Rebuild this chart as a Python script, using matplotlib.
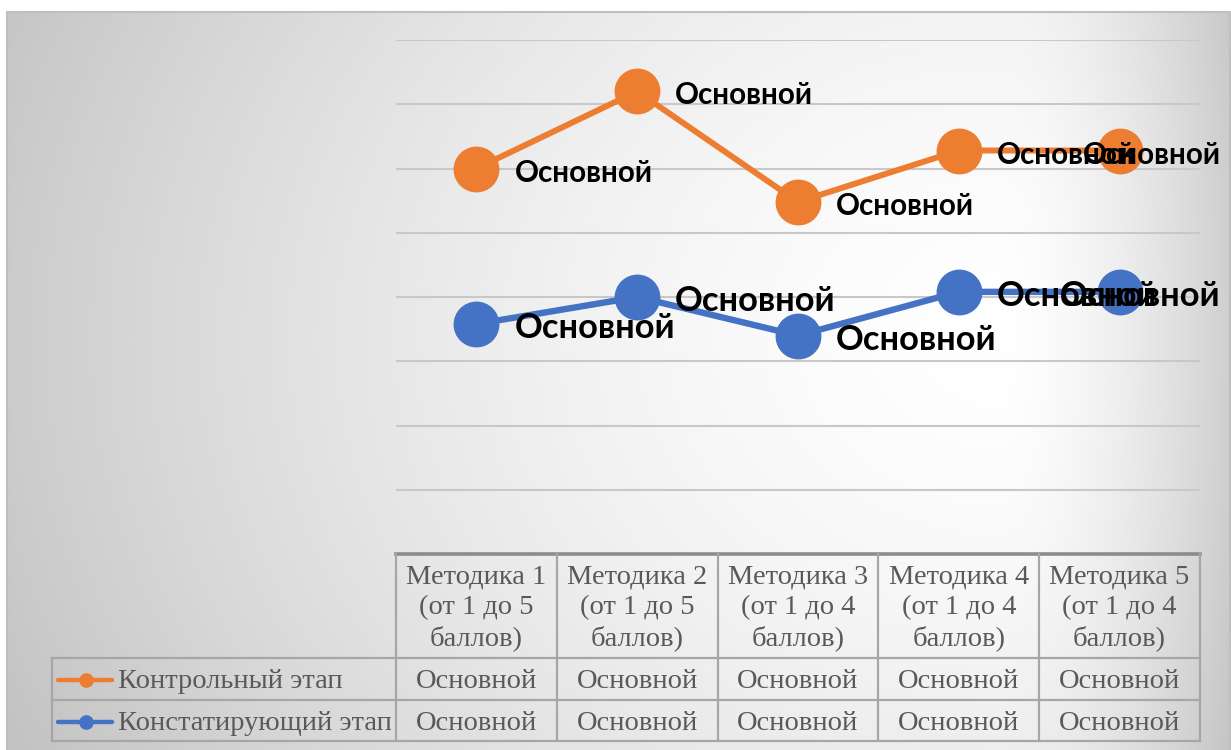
import numpy as np
import matplotlib
matplotlib.use("Agg")
import matplotlib.pyplot as plt
from matplotlib.lines import Line2D

# ---------------- data ----------------
categories = ["Методика 1\n(от 1 до 5\nбаллов)",
              "Методика 2\n(от 1 до 5\nбаллов)",
              "Методика 3\n(от 1 до 4\nбаллов)",
              "Методика 4\n(от 1 до 4\nбаллов)",
              "Методика 5\n(от 1 до 4\nбаллов)"]
series_names = ["Контрольный этап", "Констатирующий этап"]
control_values = [3.0, 3.6, 2.74, 3.14, 3.14]
baseline_values = [1.79, 2.0, 1.70, 2.04, 2.04]
control_labels = ["Основной"] * 5
baseline_labels = ["Основной"] * 5
colors = ["#ED7D31", "#4472C4"]

W, H = 1231, 750
DPI = 100
fig = plt.figure(figsize=(W / DPI, H / DPI), dpi=DPI)

# ---------------- background overlay (pixel coordinates) ----------------
ov = fig.add_axes([0, 0, 1, 1], zorder=0)
ov.set_xlim(0, W)
ov.set_ylim(H, 0)
ov.axis("off")

yy, xx = np.mgrid[0:H, 0:W].astype(float)
cx, cy = 1000.0, 340.0
u = np.where(xx < cx, (xx - cx) / 1100.0, (xx - cx) / 265.0)
v = (yy - cy) / 900.0
t = np.sqrt(u ** 2 + v ** 2)
dark = 60.0 * np.clip(t, 0, 1.05) ** 1.6
g = (255.0 - dark) / 255.0
g[(xx < 6) | (yy < 11)] = 1.0
img = np.dstack([g, g, g])
ov.imshow(img, extent=(0, W, H, 0), aspect="auto", interpolation="bilinear", zorder=0)
# chart border
ov.plot([6.5, 6.5, 1229.5, 1229.5], [H, 11.5, 11.5, H], color="#BFBFBF", lw=1.5, zorder=1)

# ---------------- main plot ----------------
L, R, T, B = 396, 1200, 40, 554
ax = fig.add_axes([L / W, 1 - B / H, (R - L) / W, (B - T) / H], zorder=2)
ax.patch.set_alpha(0)
ax.set_xlim(0.5, 5.5)
ax.set_ylim(0, 4)
for s in ax.spines.values():
    s.set_visible(False)
ax.set_xticks([])
ax.set_yticks(np.arange(0.5, 4.01, 0.5))
ax.tick_params(left=False, labelleft=False)
ax.grid(axis="y", color="#C8C8C8", lw=1.5)
ax.set_axisbelow(True)

x = np.arange(1, 6)
ax.plot(x, baseline_values, color=colors[1], lw=4.6, marker="o", ms=32,
        solid_capstyle="round", zorder=3, clip_on=False)
ax.plot(x, control_values, color=colors[0], lw=4.3, marker="o", ms=32,
        solid_capstyle="round", zorder=3, clip_on=False)

lab_font = dict(family="Lato", weight="bold", color="black")
for vals, labs, fs, dy in [(control_values, control_labels, 21.3, -4),
                           (baseline_values, baseline_labels, 24.8, -4)]:
    for i, (xv, yv, lb) in enumerate(zip(x, vals, labs)):
        if i == len(x) - 1:
            ax.annotate(lb, (xv, yv), xytext=(101, dy), textcoords="offset pixels",
                        ha="right", va="center", fontsize=fs, zorder=5,
                        annotation_clip=False, **lab_font)
        else:
            ax.annotate(lb, (xv, yv), xytext=(38, dy), textcoords="offset pixels",
                        ha="left", va="center", fontsize=fs, zorder=5,
                        annotation_clip=False, **lab_font)

# ---------------- data table ----------------
col_edges = np.linspace(L, R, len(categories) + 1)
row_top, row_h1, row_h2, row_bot = 553.5, 658, 700, 741
leg_left = 52
tcol = "#A6A6A6"
txt_col = "#595959"
tfont = dict(family="Liberation Serif", color=txt_col)
FS = 20.5

# horizontal lines
ov.plot([L, R], [row_top, row_top], color="#8C8C8C", lw=2.6, zorder=3)
ov.plot([leg_left, R], [row_h1, row_h1], color=tcol, lw=1.6, zorder=3)
ov.plot([leg_left, R], [row_h2, row_h2], color=tcol, lw=1.6, zorder=3)
ov.plot([leg_left, R], [row_bot, row_bot], color=tcol, lw=1.6, zorder=3)
# vertical lines
for xe in col_edges:
    ov.plot([xe, xe], [row_top, row_bot], color=tcol, lw=1.6, zorder=3)
ov.plot([leg_left, leg_left], [row_h1, row_bot], color=tcol, lw=1.6, zorder=3)

# header texts
for i, cat in enumerate(categories):
    xc = (col_edges[i] + col_edges[i + 1]) / 2
    ov.text(xc, 608, cat, ha="center", va="center", fontsize=FS,
            linespacing=1.28, zorder=4, **tfont)

# rows
row_centers = [(row_h1 + row_h2) / 2 + 3, (row_h2 + row_bot) / 2 + 3]
for r, (labs, name, col) in enumerate(zip([control_labels, baseline_labels],
                                          series_names, colors)):
    yc = row_centers[r]
    for i, lb in enumerate(labs):
        xc = (col_edges[i] + col_edges[i + 1]) / 2
        ov.text(xc, yc, lb, ha="center", va="center", fontsize=FS, zorder=4, **tfont)
    ov.add_line(Line2D([58, 112], [yc - 2, yc - 2], color=col, lw=3.2,
                       solid_capstyle="round", zorder=4))
    ov.plot([86], [yc - 2], marker="o", ms=9.5, color=col, zorder=5)
    ov.text(118, yc, name, ha="left", va="center", fontsize=FS, zorder=4, **tfont)

fig.savefig("out.png", dpi=DPI)
